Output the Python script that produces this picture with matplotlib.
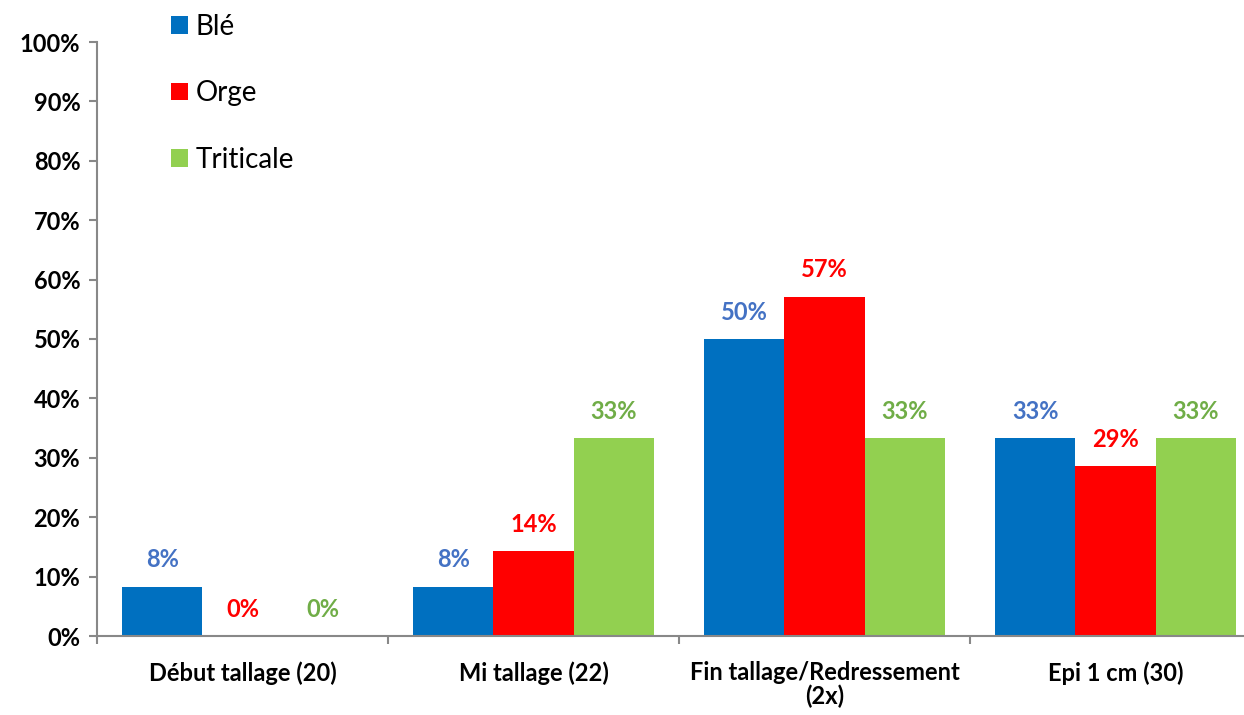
import numpy as np
import matplotlib
matplotlib.use("Agg")
import matplotlib.pyplot as plt
from matplotlib.ticker import FixedLocator, PercentFormatter

plt.rcParams['font.family'] = ['Lato', 'DejaVu Sans']

categories = ["Début tallage (20)", "Mi tallage (22)",
              "Fin tallage/Redressement\n(2x)", "Epi 1 cm (30)"]
series = ["Blé", "Orge", "Triticale"]
ble = [8.33, 8.33, 50.0, 33.33]
orge = [0.0, 14.29, 57.14, 28.57]
triticale = [0.0, 33.33, 33.33, 33.33]

bar_colors = ['#0070C0', '#FF0000', '#92D050']
label_colors = ['#4472C4', '#FF0000', '#70AD47']

fig = plt.figure(figsize=(12.44, 7.15), dpi=100)
ax = fig.add_axes([97/1244, 79/715, (1261-97)/1244, (636-42)/715])

x = np.arange(len(categories))
w = 0.275
for i, (name, vals) in enumerate(zip(series, [ble, orge, triticale])):
    pos = x + (i - 1) * w
    ax.bar(pos, vals, width=w, color=bar_colors[i], label=name)
    for p, v in zip(pos, vals):
        ax.annotate("%d%%" % round(v), (p, v), xytext=(0, 11), textcoords='offset points',
                    ha='center', va='bottom', fontsize=17, fontweight='bold',
                    color=label_colors[i])

ax.set_xlim(-0.5, len(categories) - 0.5)
ax.set_ylim(0, 100)
ax.yaxis.set_major_locator(FixedLocator(np.arange(0, 101, 10)))
ax.yaxis.set_major_formatter(PercentFormatter(decimals=0))

ax.set_xticks(x)
ax.set_xticklabels(categories, fontsize=17, fontweight='bold', linespacing=1.05)
ax.xaxis.set_minor_locator(FixedLocator(np.arange(-0.5, len(categories), 1.0)))
ax.tick_params(axis='x', which='major', length=0, pad=18)
ax.tick_params(axis='x', which='minor', length=6, width=1.5, color='#888888')
ax.tick_params(axis='y', length=6, width=1.5, color='#888888', labelsize=17, pad=6)
for lbl in ax.get_yticklabels():
    lbl.set_fontweight('bold')

for s in ['top', 'right']:
    ax.spines[s].set_visible(False)
for s in ['left', 'bottom']:
    ax.spines[s].set_color('#888888')
    ax.spines[s].set_linewidth(1.5)

ax.legend(loc='upper left', bbox_to_anchor=(171/1244, 1 - 14/715),
          bbox_transform=fig.transFigure, frameon=False, fontsize=20,
          handlelength=0.6, handleheight=0.6, handletextpad=0.3,
          labelspacing=1.45, borderpad=0, borderaxespad=0)

fig.savefig("out.png", dpi=100)
